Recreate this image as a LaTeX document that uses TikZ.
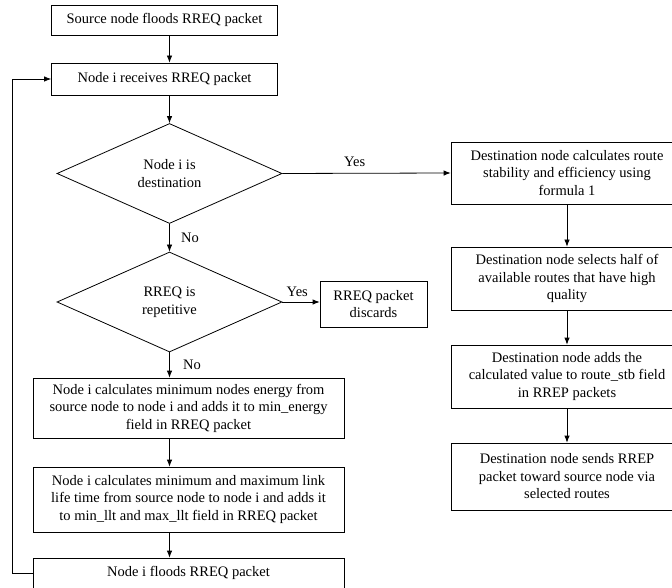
\documentclass[tikz,border=0pt]{standalone}
\usepackage{fontspec}
\setmainfont{Liberation Serif}
\usetikzlibrary{shapes,arrows,arrows.meta,positioning,calc}

\begin{document}
\begin{tikzpicture}[x=1pt,y=-1pt,>={Latex[length=7pt,width=5.5pt]},line width=0.8pt,
    every node/.style={font=\fontsize{14.5}{17.5}\selectfont},
    box/.style={draw, rectangle, align=center, inner sep=1pt},
    decision/.style={draw, diamond, aspect=2.25, inner sep=0pt,
        minimum width=225pt, minimum height=100pt, align=center}]
            \useasboundingbox (0,0) rectangle (672,588);

            % left column
            \node[box, minimum width=226pt, minimum height=30pt] (src) at (164.5,20) {Source node floods RREQ packet};
            \node[box, minimum width=226pt, minimum height=32pt] (recv) at (164.5,79) {Node i receives RREQ packet};
            \node[decision] (isdest) at (169.5,173.5) {Node i is\\destination};
            \node[decision] (isrep) at (169.5,302) {RREQ is\\repetitive};
            \node[box, minimum width=107pt, minimum height=46pt] (discard) at (373.5,304) {RREQ packet\\discards};
            \node[box, minimum width=311pt, minimum height=60pt] (energy) at (188.5,408)
                {Node i calculates minimum nodes energy from\\source node to node i and adds it to min\_energy\\field in RREQ packet};
            \node[box, minimum width=311pt, minimum height=65pt] (llt) at (188.5,499.5)
                {Node i calculates minimum and maximum link\\life time from source node to node i and adds it\\to min\_llt and max\_llt field in RREQ packet};
            \node[box, minimum width=311pt, minimum height=30pt] (flood) at (188.5,573) {Node i floods RREQ packet};

            % right column
            \node[box, minimum width=232pt, minimum height=62pt] (calc) at (567,173)
                {Destination node calculates route\\stability and efficiency using\\formula 1};
            \node[box, minimum width=232pt, minimum height=63pt] (select) at (567,278.5)
                {Destination node selects half of\\available routes that have high\\quality};
            \node[box, minimum width=232pt, minimum height=63pt] (adds) at (567,376.5)
                {Destination node adds the\\calculated value to route\_stb field\\in RREP packets};
            \node[box, minimum width=232pt, minimum height=67pt] (sends) at (567,476.5)
                {Destination node sends RREP\\packet toward source node via\\selected routes};

            % arrows down the left
            \draw[->] (isdest |- src.south) -- (isdest |- recv.north);
            \draw[->] (isdest |- recv.south) -- (isdest.north);
            \draw[->] (isdest.south) -- node[right=8pt] {No} (isrep.north);
            \draw[->] (isrep.south) -- node[right=10pt] {No} (isrep |- energy.north);
            \draw[->] (isrep |- energy.south) -- (isrep |- llt.north);
            \draw[->] (isrep |- llt.south) -- (isrep |- flood.north);

            % yes branches
            \draw[->] (isdest.east) -- node[pos=0.43, above=3pt] {Yes} (calc.west);
            \draw[->] (isrep.east) -- node[pos=0.4, above=2pt] {Yes} (discard.west |- isrep.east);

            % arrows down the right
            \draw[->] (calc) -- (select);
            \draw[->] (select) -- (adds);
            \draw[->] (adds) -- (sends);

            % loop back
            \draw[->] (flood.west) -- ++(-20,0) |- (recv.west);
        \end{tikzpicture}
\end{document}
